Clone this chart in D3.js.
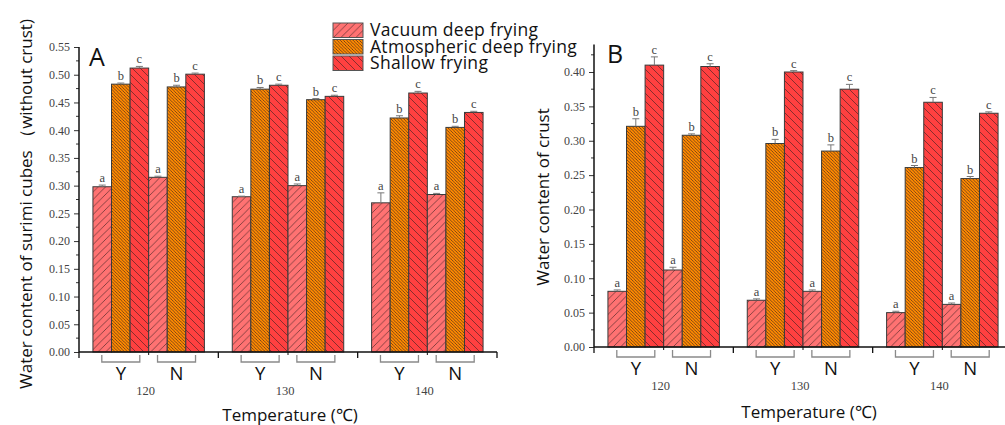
<!DOCTYPE html>
<html lang="en">
<head>
    <meta charset="UTF-8">
    <title>Water content of surimi cubes</title>
    <script src="https://d3js.org/d3.v7.min.js"></script>
    <style>
        body {
            margin: 0;
            background: #fff;
            overflow: hidden;
        }
        .tick-label, .sig {
            font-family: "Liberation Serif", serif;
            fill: #444;
        }
        .sans {
            font-family: "Open Sans", sans-serif;
            fill: #111;
        }
    </style>
</head>
<body>
    <svg width="1005" height="425"></svg>

    <script>
        // categories
        const temps = ["120", "130", "140"];
        const crusts = ["Y", "N"];
        const methods = ["Vacuum deep frying", "Atmospheric deep frying", "Shallow frying"];
        const sigLetters = ["a", "b", "c"];

        // panel A: water content without crust, order 120Y,120N,130Y,130N,140Y,140N
        const aVacuum = [0.298, 0.315, 0.280, 0.300, 0.269, 0.284];
        const aAtmospheric = [0.483, 0.478, 0.474, 0.455, 0.422, 0.405];
        const aShallow = [0.512, 0.501, 0.481, 0.461, 0.467, 0.432];
        const aVacuumErr = [0.003, 0.002, 0.001, 0.003, 0.018, 0.002];
        const aAtmosphericErr = [0.002, 0.003, 0.003, 0.002, 0.004, 0.002];
        const aShallowErr = [0.003, 0.002, 0.002, 0.002, 0.003, 0.002];

        // panel B: water content of crust
        const bVacuum = [0.081, 0.112, 0.068, 0.081, 0.050, 0.062];
        const bAtmospheric = [0.321, 0.308, 0.296, 0.285, 0.261, 0.245];
        const bShallow = [0.410, 0.408, 0.400, 0.375, 0.356, 0.340];
        const bVacuumErr = [0.002, 0.004, 0.002, 0.002, 0.002, 0.002];
        const bAtmosphericErr = [0.011, 0.002, 0.006, 0.009, 0.003, 0.003];
        const bShallowErr = [0.012, 0.004, 0.002, 0.007, 0.007, 0.002];

        const aTicks = d3.range(0, 0.5501, 0.05);
        const bTicks = d3.range(0, 0.4001, 0.05);

        const colors = ["#ff7272", "#ff8a00", "#ff4040"];

        const svg = d3.select("svg");
        const defs = svg.append("defs");

        // hatch patterns: "/" sparse, "\" dense, "\" sparse
        const hatch = [
            { id: "hVac", size: 7.5, dir: "/" },
            { id: "hAtm", size: 3.2, dir: "\\" },
            { id: "hSha", size: 8, dir: "\\" }
        ];
        hatch.forEach((h, i) => {
            const p = defs.append("pattern")
                .attr("id", h.id)
                .attr("patternUnits", "userSpaceOnUse")
                .attr("width", h.size)
                .attr("height", h.size);
            p.append("rect").attr("width", h.size).attr("height", h.size).attr("fill", colors[i]);
            const s = h.size;
            const d = h.dir === "/"
                ? `M0,${s} L${s},0 M${-s / 2},${s / 2} L${s / 2},${-s / 2} M${s / 2},${s * 1.5} L${s * 1.5},${s / 2}`
                : `M0,0 L${s},${s} M${-s / 2},${s / 2} L${s / 2},${s * 1.5} M${s / 2},${-s / 2} L${s * 1.5},${s / 2}`;
            p.append("path").attr("d", d)
                .attr("stroke", "#3a2020")
                .attr("stroke-opacity", 0.8)
                .attr("stroke-width", i === 1 ? 0.8 : 0.75);
        });

        function drawPanel(cfg) {
            const g = svg.append("g");
            const series = [cfg.vac, cfg.atm, cfg.sha];
            const errs = [cfg.vacErr, cfg.atmErr, cfg.shaErr];

            const x0 = d3.scaleBand().domain(temps).range(cfg.xRange)
                .paddingInner(0.2).paddingOuter(0.1);
            const x1 = d3.scaleBand().domain(crusts).range([0, x0.bandwidth()]);
            const x2 = d3.scaleBand().domain(methods).range([0, x1.bandwidth()]);
            const y = d3.scaleLinear().domain([0, cfg.yMax]).range(cfg.yRange);

            const rows = [];
            temps.forEach((t, ti) => crusts.forEach((c, ci) => methods.forEach((m, mi) => {
                const k = ti * 2 + ci;
                rows.push({ t, c, m, mi, v: series[mi][k], e: errs[mi][k] });
            })));

            const px = d => x0(d.t) + x1(d.c) + x2(d.m);

            // bars
            g.selectAll("rect.bar").data(rows).enter().append("rect")
                .attr("class", "bar")
                .attr("x", px)
                .attr("y", d => y(d.v))
                .attr("width", x2.bandwidth())
                .attr("height", d => y(0) - y(d.v))
                .attr("fill", d => `url(#${hatch[d.mi].id})`)
                .attr("stroke", "#3a3a3a")
                .attr("stroke-width", 1);

            // error bars (upper half)
            const eb = g.selectAll("g.err").data(rows).enter().append("g")
                .attr("class", "err")
                .attr("stroke", "#777")
                .attr("stroke-width", 1);
            eb.append("line")
                .attr("x1", d => px(d) + x2.bandwidth() / 2)
                .attr("x2", d => px(d) + x2.bandwidth() / 2)
                .attr("y1", d => y(d.v))
                .attr("y2", d => y(d.v + d.e));
            eb.append("line")
                .attr("x1", d => px(d) + x2.bandwidth() / 2 - 3.5)
                .attr("x2", d => px(d) + x2.bandwidth() / 2 + 3.5)
                .attr("y1", d => y(d.v + d.e))
                .attr("y2", d => y(d.v + d.e));

            // significance letters
            g.selectAll("text.sig").data(rows).enter().append("text")
                .attr("class", "sig")
                .attr("x", d => px(d) + x2.bandwidth() / 2)
                .attr("y", d => y(d.v + d.e) - 3)
                .attr("text-anchor", "middle")
                .attr("font-size", 12.5)
                .text(d => sigLetters[d.mi]);

            // y axis with major and minor ticks
            const yAxis = g.append("g")
                .attr("transform", `translate(${cfg.xRange[0]},0)`)
                .call(d3.axisLeft(y).tickValues(cfg.ticks).tickSize(5).tickSizeOuter(0).tickFormat(d3.format(".2f")));
            yAxis.select(".domain").remove();
            yAxis.selectAll("text").attr("class", "tick-label").attr("font-size", 12).attr("x", -9);
            yAxis.selectAll("line").attr("stroke", "#333");
            const minors = cfg.ticks.map(t => t + 0.025).filter(t => t < cfg.yMax);
            g.append("g")
                .attr("transform", `translate(${cfg.xRange[0]},0)`)
                .selectAll("line").data(minors).enter().append("line")
                .attr("x1", -3).attr("x2", 0)
                .attr("y1", d => y(d)).attr("y2", d => y(d))
                .attr("stroke", "#333");
            g.append("line")
                .attr("x1", cfg.xRange[0]).attr("x2", cfg.xRange[0])
                .attr("y1", y(0)).attr("y2", y(cfg.yMax))
                .attr("stroke", "#111").attr("stroke-width", 1.5);

            // x axis line and ticks
            g.append("line")
                .attr("x1", cfg.xRange[0]).attr("x2", cfg.xRange[1])
                .attr("y1", y(0)).attr("y2", y(0))
                .attr("stroke", "#111").attr("stroke-width", 1.5);
            const half = (x0.step() - x0.bandwidth()) / 2;
            const bounds = temps.map(t => x0(t) - half).concat([x0(temps[2]) + x0.bandwidth() + half]);
            const mids = temps.map(t => x0(t) + x0.bandwidth() / 2);
            g.selectAll("line.xmaj").data(bounds).enter().append("line")
                .attr("x1", d => d).attr("x2", d => d)
                .attr("y1", y(0)).attr("y2", y(0) + 6)
                .attr("stroke", "#111").attr("stroke-width", 1.3);
            g.selectAll("line.xmin").data(mids).enter().append("line")
                .attr("x1", d => d).attr("x2", d => d)
                .attr("y1", y(0)).attr("y2", y(0) + 3)
                .attr("stroke", "#111").attr("stroke-width", 1);

            // brackets and Y/N labels
            const subs = [];
            temps.forEach(t => crusts.forEach(c => subs.push({ t, c, cx: x0(t) + x1(c) + x1.bandwidth() / 2 })));
            g.selectAll("path.br").data(subs).enter().append("path")
                .attr("d", d => `M${d.cx - 19},${y(0) + 3} V${y(0) + 10} H${d.cx + 19} V${y(0) + 3}`)
                .attr("fill", "none")
                .attr("stroke", "#8a8a8a")
                .attr("stroke-width", 1.3);
            g.selectAll("text.yn").data(subs).enter().append("text")
                .attr("class", "sans")
                .attr("x", d => d.cx)
                .attr("y", y(0) + 28)
                .attr("text-anchor", "middle")
                .attr("font-size", 18.5)
                .text(d => d.c);
            g.selectAll("text.temp").data(temps).enter().append("text")
                .attr("class", "tick-label")
                .attr("x", d => x0(d) + x0.bandwidth() / 2 - 3)
                .attr("y", y(0) + 43)
                .attr("text-anchor", "middle")
                .attr("font-size", 12.5)
                .text(d => d);

            // titles
            g.append("text").attr("class", "sans")
                .attr("x", cfg.xTitleX).attr("y", cfg.xTitleY)
                .attr("text-anchor", "middle").attr("font-size", 17)
                .text("Temperature (℃)");
            g.append("text").attr("class", "sans")
                .attr("transform", `translate(${cfg.yTitle[0]},${cfg.yTitle[1]}) rotate(-90)`)
                .attr("text-anchor", "middle").attr("font-size", 17)
                .text(cfg.yLabel);
            g.append("text").attr("class", "sans")
                .attr("x", cfg.letter[0]).attr("y", cfg.letter[1])
                .attr("font-size", 25)
                .text(cfg.letterText);
        }

        drawPanel({
            vac: aVacuum, atm: aAtmospheric, sha: aShallow,
            vacErr: aVacuumErr, atmErr: aAtmosphericErr, shaErr: aShallowErr,
            xRange: [79, 497], yRange: [352, 47], yMax: 0.55, ticks: aTicks,
            xTitleX: 290, xTitleY: 421,
            yTitle: [32, 204], yLabel: "Water content of surimi cubes （without crust)",
            letter: [89, 66], letterText: "A"
        });

        drawPanel({
            vac: bVacuum, atm: bAtmospheric, sha: bShallow,
            vacErr: bVacuumErr, atmErr: bAtmosphericErr, shaErr: bShallowErr,
            xRange: [594, 1012], yRange: [347, 44.5], yMax: 0.44, ticks: bTicks,
            xTitleX: 809, xTitleY: 418,
            yTitle: [549, 197], yLabel: "Water content of crust",
            letter: [607, 63], letterText: "B"
        });

        // legend
        const legend = svg.append("g").attr("transform", "translate(333,23)");
        methods.forEach((m, i) => {
            const row = legend.append("g").attr("transform", `translate(0,${i * 16.5})`);
            row.append("rect")
                .attr("width", 30).attr("height", 14.5)
                .attr("fill", `url(#${hatch[i].id})`)
                .attr("stroke", "#555").attr("stroke-width", 1);
            row.append("text").attr("class", "sans")
                .attr("x", 37).attr("y", 13)
                .attr("font-size", 17.5)
                .attr("letter-spacing", 0.3)
                .text(m);
        });
    </script>
</body>
</html>
